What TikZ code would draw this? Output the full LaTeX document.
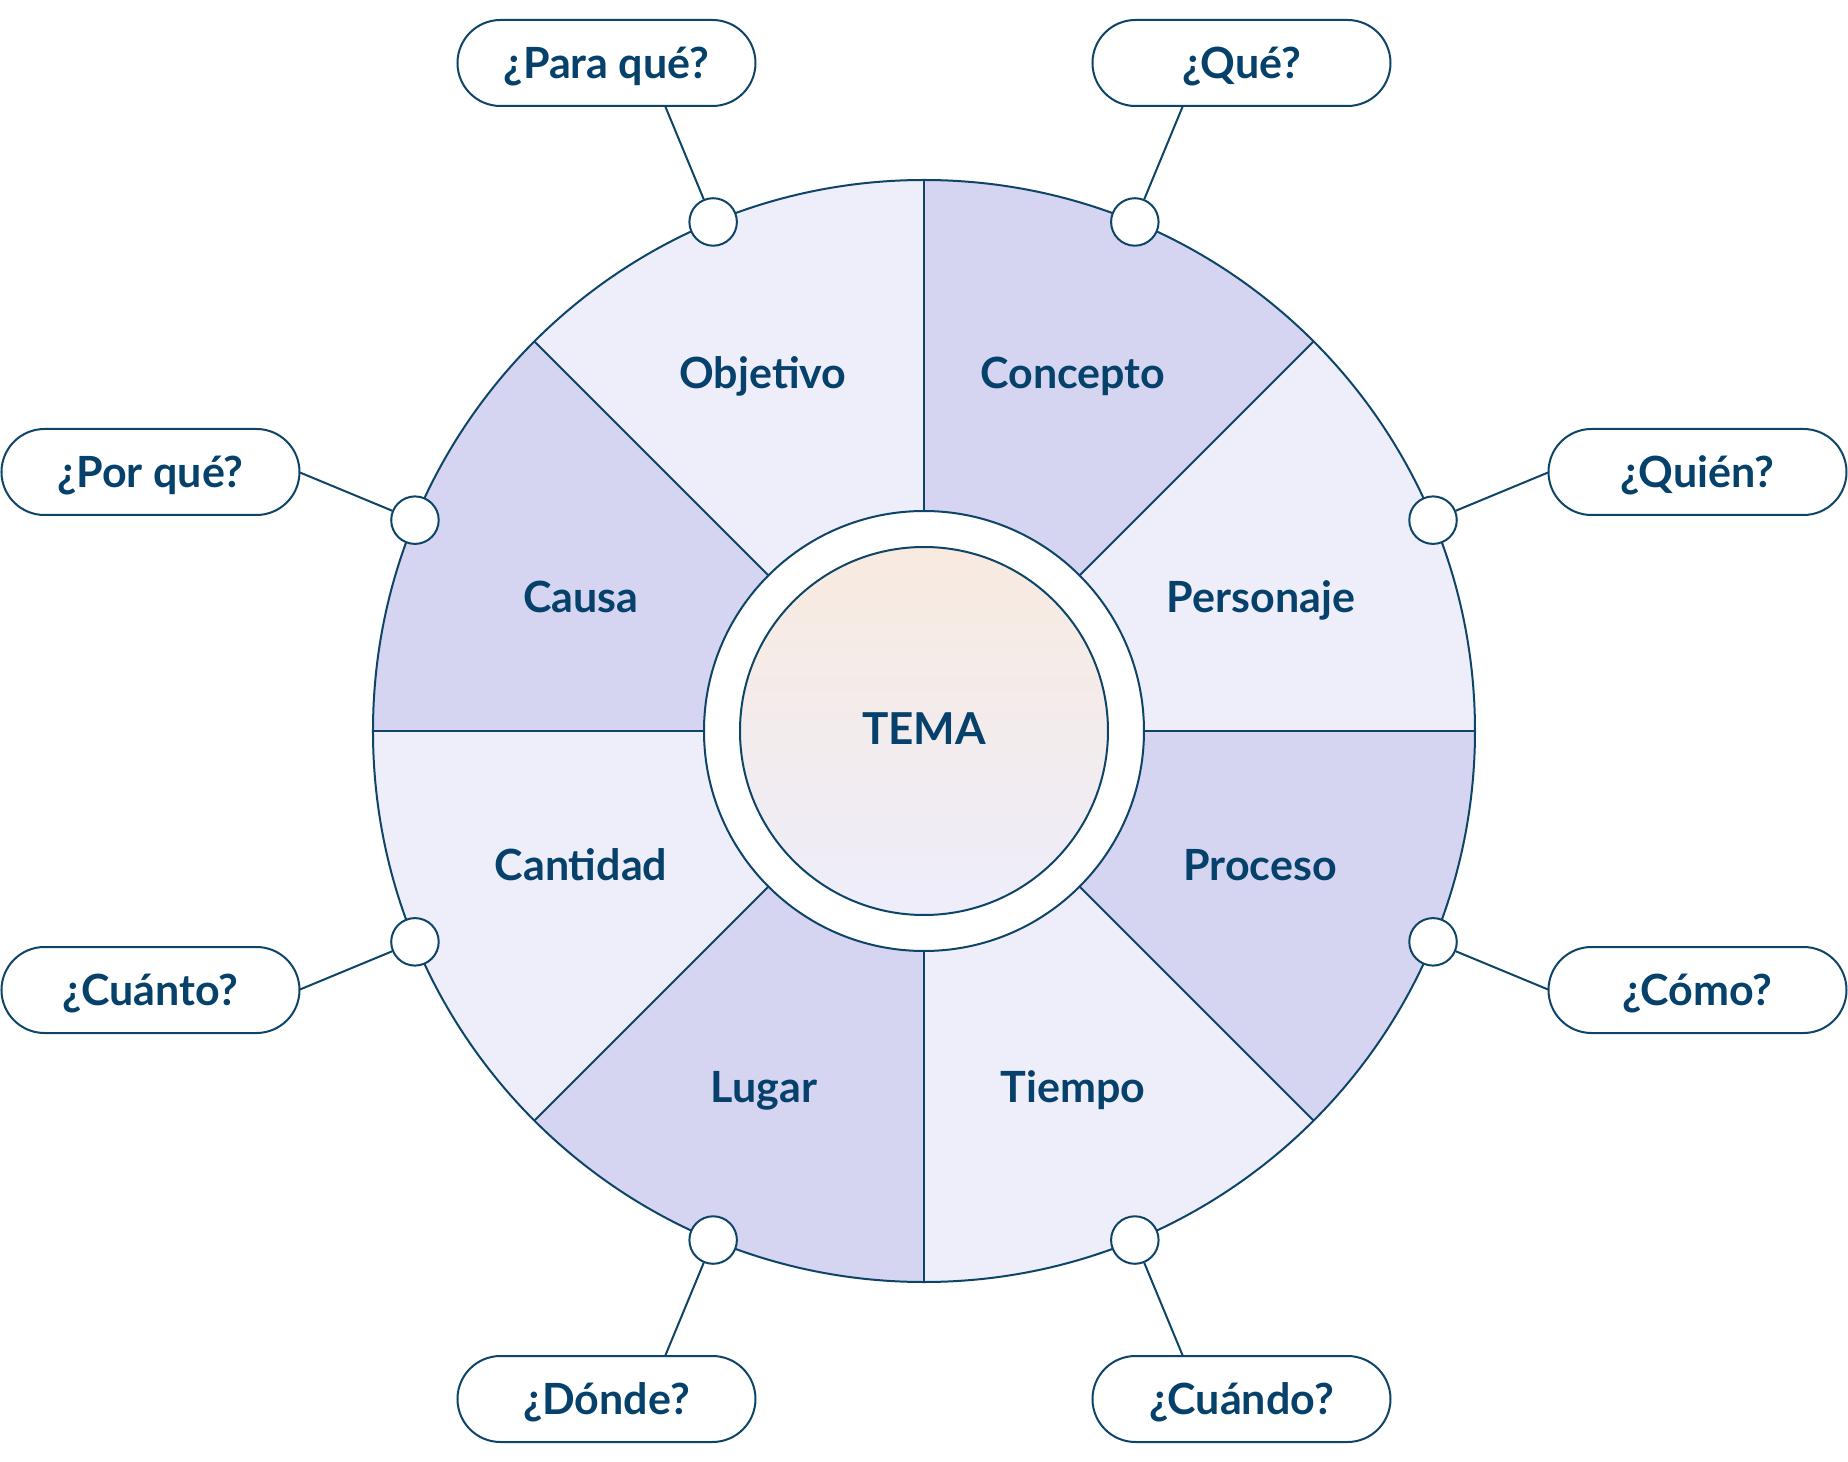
\documentclass[tikz,border=0pt]{standalone}
\usepackage{fontspec}
\setmainfont{Lato}
\definecolor{ink}{HTML}{0D4468}
\definecolor{txt}{HTML}{05416A}
\definecolor{seclight}{HTML}{EEEDFA}
\definecolor{secdark}{HTML}{D6D5F1}
\definecolor{peach}{HTML}{F8EADF}
\begin{document}
\begin{tikzpicture}[x=1pt,y=1pt,
  lbl/.style={font=\fontsize{43}{50}\selectfont\bfseries, text=txt, anchor=base, inner sep=0pt},
  qbox/.style={draw=ink, line width=2pt, fill=white, rounded corners=43pt,
    minimum width=298pt, minimum height=86pt, inner sep=0pt,
    text height=30.8pt, text depth=0pt,
    font=\fontsize{43}{50}\selectfont\bfseries, text=txt},
  knob/.style={circle, draw=ink, line width=2pt, fill=white, minimum size=47.5pt, inner sep=0pt},
  link/.style={draw=ink, line width=2pt},
  rim/.style={draw=ink, line width=2pt}]
\useasboundingbox (-924,-731) rectangle (924,731);
% sectors
\foreach \a in {0,90,180,270}
  \fill[seclight] (0,0) -- (\a:551) arc[start angle=\a, delta angle=45, radius=551] -- cycle;
\foreach \a in {45,135,225,315}
  \fill[secdark] (0,0) -- (\a:551) arc[start angle=\a, delta angle=45, radius=551] -- cycle;
\foreach \a in {0,45,...,315}
  \draw[rim] (\a:220) -- (\a:551);
\draw[rim] (0,0) circle[radius=551];
% white ring and centre
\node[circle, rim, fill=white, minimum size=440pt, inner sep=0pt] (ring) at (0,0) {};
\node[circle, rim, top color=peach, bottom color=seclight, minimum size=368pt, inner sep=0pt] (core) at (0,0) {};
\node[lbl, font=\fontsize{44}{52}\selectfont\bfseries] (tema) at (0,-13) {TEMA};
% sector labels
\node[lbl] (l1) at (-161,342) {Objetivo};
\node[lbl] (l2) at (149,342) {Concepto};
\node[lbl] (l3) at (-343,118.5) {Causa};
\node[lbl] (l4) at (337,118.5) {Personaje};
\node[lbl] (l5) at (-343,-149) {Cantidad};
\node[lbl] (l6) at (336,-149) {Proceso};
\node[lbl] (l7) at (-160,-371) {Lugar};
\node[lbl] (l8) at (149,-371) {Tiempo};
% question boxes
\node[qbox] (q1) at (-317.5,668) {¿Para qué?};
\node[qbox] (q2) at (317.5,668) {¿Qué?};
\node[qbox] (q3) at (-773.5,259) {¿Por qué?};
\node[qbox] (q4) at (773.5,259) {¿Quién?};
\node[qbox] (q5) at (-773.5,-259) {¿Cuánto?};
\node[qbox] (q6) at (773.5,-259) {¿Cómo?};
\node[qbox] (q7) at (-317.5,-668) {¿Dónde?};
\node[qbox] (q8) at (317.5,-668) {¿Cuándo?};
% knobs and links
\foreach \a/\n in {112.5/1, 67.5/2, 157.5/3, 22.5/4, 202.5/5, -22.5/6, 247.5/7, 292.5/8}{
  \coordinate (e\n) at (\a:676);
  \node[knob] (k\n) at (\a:551) {};
  \draw[link] (k\n) -- (e\n);
}
\end{tikzpicture}
\end{document}
